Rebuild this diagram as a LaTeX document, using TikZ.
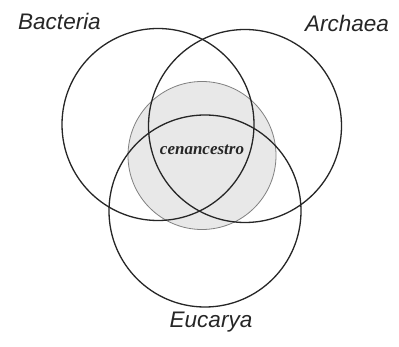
\documentclass[tikz,border=0pt]{standalone}
\usepackage{fontspec}
\setmainfont{Liberation Serif}
\newfontfamily\labelfont{Liberation Sans}
\begin{document}
\begin{tikzpicture}[x=1pt,y=-1pt,
  ringline/.style={draw=black!85,line width=1.3pt},
  core/.style={draw=black!50,line width=0.8pt,fill=black!9},
  lab/.style={font=\labelfont\itshape\fontsize{22.5}{24}\selectfont,text=black!85},
  corelab/.style={font=\bfseries\itshape\fontsize{17}{19}\selectfont,text=black!85}]
\useasboundingbox (0,0) rectangle (399,347);
\fill[white] (0,0) rectangle (399,347);
\path[core] (202,155.5) circle[radius=74];
\draw[ringline] (158,124.5) circle[radius=96];
\draw[ringline] (245,126) circle[radius=96.5];
\draw[ringline] (205,211) circle[radius=96];
\node[lab] (bac) at (59.5,21) {Bacteria};
\node[lab] (arc) at (347,23) {Archaea};
\node[lab] (euc) at (211,322) {Eucarya};
\node[corelab] (cen) at (202,150) {cenancestro};
\end{tikzpicture}
\end{document}
